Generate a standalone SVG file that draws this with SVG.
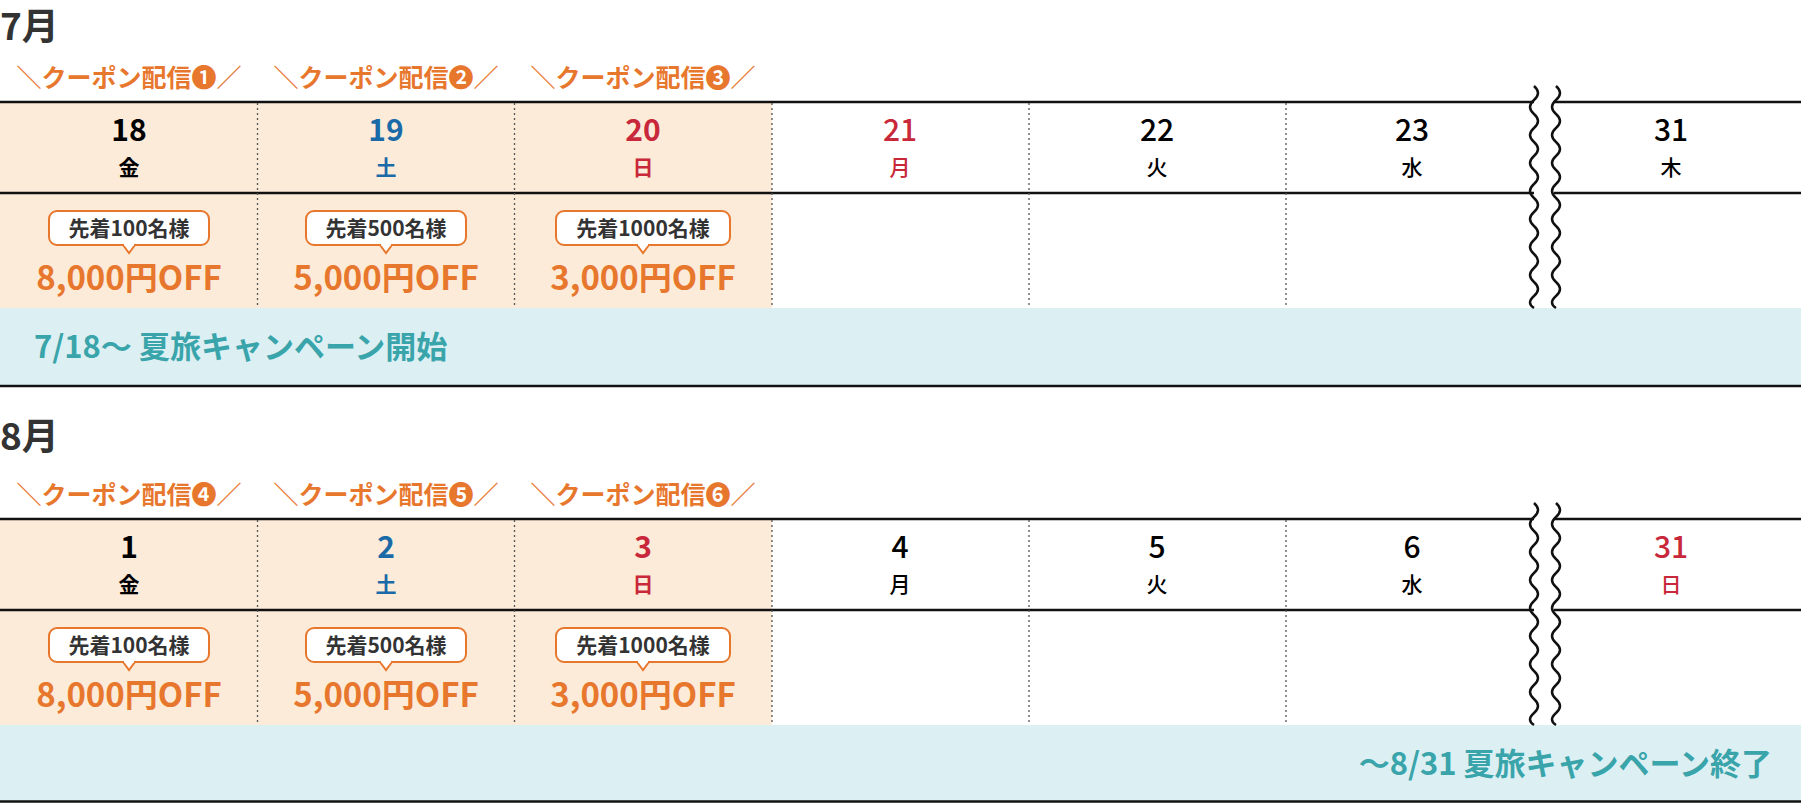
<svg xmlns="http://www.w3.org/2000/svg" width="1801" height="803" viewBox="0 0 1801 803">
<style>
text{font-family:"Noto Sans CJK JP","Noto Sans",sans-serif;text-anchor:middle}
.mon{font-size:37px;font-weight:700;fill:#333;text-anchor:start}
.cp{font-size:25px;font-weight:700;fill:#e8772e}
.num{font-size:30px;font-weight:500}
.numb{font-size:30px;font-weight:700}
.wd{font-size:21px;font-weight:500}
.wdb{font-size:21px;font-weight:700}
.bub{font-size:21px;font-weight:700;fill:#333}
.off{font-size:33px;font-weight:700;fill:#e8772e}
.band{font-size:31px;font-weight:700;fill:#3aa4ab}
.k{fill:#000}.b{fill:#1a6aa8}.r{fill:#c8283a}
.hl{stroke:#111;stroke-width:2.5}
.dot{stroke:#555;stroke-width:1.3;stroke-dasharray:2 3}
.bb{fill:#fff;stroke:#e8772e;stroke-width:2}
.wave{fill:none;stroke:#111;stroke-width:2.5}
</style>
<defs>
<g id="bubbleS"><rect x="-80" y="-34" width="160" height="34" rx="8" class="bb"/><path d="M-6,0 L0,8 L6,0" class="bb"/><path d="M-5,-1 L5,-1" stroke="#fff" stroke-width="3"/></g>
<g id="bubbleL"><rect x="-87" y="-34" width="174" height="34" rx="8" class="bb"/><path d="M-6,0 L0,8 L6,0" class="bb"/><path d="M-5,-1 L5,-1" stroke="#fff" stroke-width="3"/></g>
</defs>

<g id="july">
<text class="mon" x="0" y="40">7月</text>
<g id="coupons-jul">
<text class="cp" x="129" y="87">＼クーポン配信❶／</text>
<text class="cp" x="386" y="87">＼クーポン配信❷／</text>
<text class="cp" x="643" y="87">＼クーポン配信❸／</text>
</g>
<rect x="0" y="102" width="772" height="206" fill="#fcebd9"/>
<rect x="0" y="308" width="1801" height="78" fill="#dcf0f3"/>
<g id="grid-jul">
<line class="hl" x1="0" y1="102" x2="1801" y2="102"/>
<line class="hl" x1="0" y1="193" x2="1801" y2="193"/>
<line class="hl" x1="0" y1="386" x2="1801" y2="386"/>
<line class="dot" x1="257.5" y1="103" x2="257.5" y2="308"/>
<line class="dot" x1="514.5" y1="103" x2="514.5" y2="308"/>
<line class="dot" x1="772" y1="103" x2="772" y2="308"/>
<line class="dot" x1="1029" y1="103" x2="1029" y2="308"/>
<line class="dot" x1="1286" y1="103" x2="1286" y2="308"/>
<rect x="1534" y="86" width="20" height="222" fill="#fff"/>
<path class="wave" d="M1534,86 q8,7 0,14 t0,14 t0,14 t0,14 t0,14 t0,14 t0,14 t0,14 t0,14 t0,14 t0,14 t0,14 t0,14 t0,14 t0,14 t0,12"/>
<path class="wave" d="M1556,86 q8,7 0,14 t0,14 t0,14 t0,14 t0,14 t0,14 t0,14 t0,14 t0,14 t0,14 t0,14 t0,14 t0,14 t0,14 t0,14 t0,12"/>
</g>
<g id="days-jul">
<text class="numb k" x="129" y="141">18</text><text class="wdb k" x="129" y="175">金</text>
<text class="numb b" x="386" y="141">19</text><text class="wdb b" x="386" y="175">土</text>
<text class="numb r" x="643" y="141">20</text><text class="wdb r" x="643" y="175">日</text>
<text class="num r" x="900" y="141">21</text><text class="wd r" x="900" y="175">月</text>
<text class="num k" x="1157" y="141">22</text><text class="wd k" x="1157" y="175">火</text>
<text class="num k" x="1412" y="141">23</text><text class="wd k" x="1412" y="175">水</text>
<text class="num k" x="1671" y="141">31</text><text class="wd k" x="1671" y="175">木</text>
</g>
<g id="offers-jul">
<use href="#bubbleS" x="129" y="245"/><text class="bub" x="129" y="236">先着100名様</text>
<text class="off" x="129" y="290">8,000円OFF</text>
<use href="#bubbleS" x="386" y="245"/><text class="bub" x="386" y="236">先着500名様</text>
<text class="off" x="386" y="290">5,000円OFF</text>
<use href="#bubbleL" x="643" y="245"/><text class="bub" x="643" y="236">先着1000名様</text>
<text class="off" x="643" y="290">3,000円OFF</text>
</g>
<text class="band" x="34" y="358" style="text-anchor:start">7/18〜 夏旅キャンペーン開始</text>
</g>

<g id="august" transform="translate(0,417)">
<text class="mon" x="0" y="33">8月</text>
<g id="coupons-aug">
<text class="cp" x="129" y="87">＼クーポン配信❹／</text>
<text class="cp" x="386" y="87">＼クーポン配信❺／</text>
<text class="cp" x="643" y="87">＼クーポン配信❻／</text>
</g>
<rect x="0" y="102" width="772" height="206" fill="#fcebd9"/>
<rect x="0" y="308" width="1801" height="76" fill="#dcf0f3"/>
<g id="grid-aug">
<line class="hl" x1="0" y1="102" x2="1801" y2="102"/>
<line class="hl" x1="0" y1="193" x2="1801" y2="193"/>
<line class="hl" x1="0" y1="384.5" x2="1801" y2="384.5"/>
<line class="dot" x1="257.5" y1="103" x2="257.5" y2="308"/>
<line class="dot" x1="514.5" y1="103" x2="514.5" y2="308"/>
<line class="dot" x1="772" y1="103" x2="772" y2="308"/>
<line class="dot" x1="1029" y1="103" x2="1029" y2="308"/>
<line class="dot" x1="1286" y1="103" x2="1286" y2="308"/>
<rect x="1534" y="86" width="20" height="222" fill="#fff"/>
<path class="wave" d="M1534,86 q8,7 0,14 t0,14 t0,14 t0,14 t0,14 t0,14 t0,14 t0,14 t0,14 t0,14 t0,14 t0,14 t0,14 t0,14 t0,14 t0,12"/>
<path class="wave" d="M1556,86 q8,7 0,14 t0,14 t0,14 t0,14 t0,14 t0,14 t0,14 t0,14 t0,14 t0,14 t0,14 t0,14 t0,14 t0,14 t0,14 t0,12"/>
</g>
<g id="days-aug">
<text class="numb k" x="129" y="141">1</text><text class="wdb k" x="129" y="175">金</text>
<text class="numb b" x="386" y="141">2</text><text class="wdb b" x="386" y="175">土</text>
<text class="numb r" x="643" y="141">3</text><text class="wdb r" x="643" y="175">日</text>
<text class="num k" x="900" y="141">4</text><text class="wd k" x="900" y="175">月</text>
<text class="num k" x="1157" y="141">5</text><text class="wd k" x="1157" y="175">火</text>
<text class="num k" x="1412" y="141">6</text><text class="wd k" x="1412" y="175">水</text>
<text class="num r" x="1671" y="141">31</text><text class="wd r" x="1671" y="175">日</text>
</g>
<g id="offers-aug">
<use href="#bubbleS" x="129" y="245"/><text class="bub" x="129" y="236">先着100名様</text>
<text class="off" x="129" y="290">8,000円OFF</text>
<use href="#bubbleS" x="386" y="245"/><text class="bub" x="386" y="236">先着500名様</text>
<text class="off" x="386" y="290">5,000円OFF</text>
<use href="#bubbleL" x="643" y="245"/><text class="bub" x="643" y="236">先着1000名様</text>
<text class="off" x="643" y="290">3,000円OFF</text>
</g>
<text class="band" x="1772" y="358" style="text-anchor:end">〜8/31 夏旅キャンペーン終了</text>
</g>
</svg>
